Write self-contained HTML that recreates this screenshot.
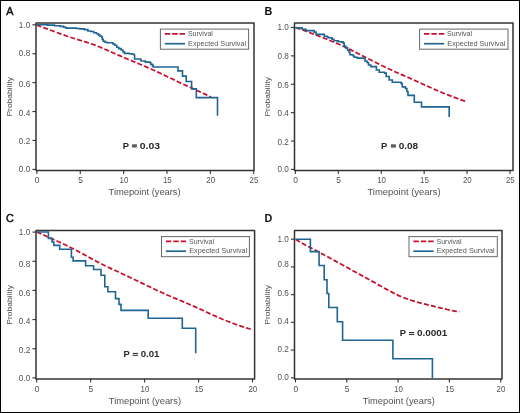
<!DOCTYPE html>
<html><head><meta charset="utf-8"><style>
html,body{margin:0;padding:0;background:#fff;}
body{width:520px;height:413px;overflow:hidden;font-family:"Liberation Sans",sans-serif;}
svg{display:block;will-change:transform;filter:blur(0.3px);}
</style></head><body>
<svg width="520" height="413" viewBox="0 0 520 413" font-family="Liberation Sans, sans-serif"><rect x="0.5" y="0.5" width="519" height="412" fill="#fff" stroke="#000" stroke-width="1"/>
<path d="M36.0,23.0 H254.0 V170.5 H36.0 Z" fill="none" stroke="#333333" stroke-width="1.5" stroke-linejoin="round"/>
<line x1="32.4" y1="169.40" x2="36.0" y2="169.40" stroke="#333333" stroke-width="1.1"/>
<text x="30.20" y="172.40" font-size="8.4" fill="#525252" text-anchor="end" textLength="11.4" lengthAdjust="spacingAndGlyphs">0.0</text>
<line x1="32.4" y1="140.48" x2="36.0" y2="140.48" stroke="#333333" stroke-width="1.1"/>
<text x="30.20" y="143.98" font-size="8.4" fill="#525252" text-anchor="end" textLength="11.4" lengthAdjust="spacingAndGlyphs">0.2</text>
<line x1="32.4" y1="111.56" x2="36.0" y2="111.56" stroke="#333333" stroke-width="1.1"/>
<text x="30.20" y="116.06" font-size="8.4" fill="#525252" text-anchor="end" textLength="11.4" lengthAdjust="spacingAndGlyphs">0.4</text>
<line x1="32.4" y1="82.64" x2="36.0" y2="82.64" stroke="#333333" stroke-width="1.1"/>
<text x="30.20" y="87.24" font-size="8.4" fill="#525252" text-anchor="end" textLength="11.4" lengthAdjust="spacingAndGlyphs">0.6</text>
<line x1="32.4" y1="53.72" x2="36.0" y2="53.72" stroke="#333333" stroke-width="1.1"/>
<text x="30.20" y="56.32" font-size="8.4" fill="#525252" text-anchor="end" textLength="11.4" lengthAdjust="spacingAndGlyphs">0.8</text>
<line x1="32.4" y1="24.80" x2="36.0" y2="24.80" stroke="#333333" stroke-width="1.1"/>
<text x="30.20" y="27.60" font-size="8.4" fill="#525252" text-anchor="end" textLength="11.4" lengthAdjust="spacingAndGlyphs">1.0</text>
<line x1="36.90" y1="170.5" x2="36.90" y2="173.9" stroke="#333333" stroke-width="1.1"/>
<text x="37.20" y="183.10" font-size="8.4" fill="#525252" text-anchor="middle" textLength="4.7" lengthAdjust="spacingAndGlyphs">0</text>
<line x1="80.26" y1="170.5" x2="80.26" y2="173.9" stroke="#333333" stroke-width="1.1"/>
<text x="80.56" y="183.10" font-size="8.4" fill="#525252" text-anchor="middle" textLength="4.7" lengthAdjust="spacingAndGlyphs">5</text>
<line x1="123.62" y1="170.5" x2="123.62" y2="173.9" stroke="#333333" stroke-width="1.1"/>
<text x="123.92" y="183.10" font-size="8.4" fill="#525252" text-anchor="middle" textLength="8.8" lengthAdjust="spacingAndGlyphs">10</text>
<line x1="166.98" y1="170.5" x2="166.98" y2="173.9" stroke="#333333" stroke-width="1.1"/>
<text x="167.28" y="183.10" font-size="8.4" fill="#525252" text-anchor="middle" textLength="8.8" lengthAdjust="spacingAndGlyphs">15</text>
<line x1="210.34" y1="170.5" x2="210.34" y2="173.9" stroke="#333333" stroke-width="1.1"/>
<text x="210.64" y="183.10" font-size="8.4" fill="#525252" text-anchor="middle" textLength="8.8" lengthAdjust="spacingAndGlyphs">20</text>
<line x1="253.70" y1="170.5" x2="253.70" y2="173.9" stroke="#333333" stroke-width="1.1"/>
<text x="254.00" y="183.10" font-size="8.4" fill="#525252" text-anchor="middle" textLength="8.8" lengthAdjust="spacingAndGlyphs">25</text>
<text x="108.60" y="195.40" font-size="9.6" fill="#525252" textLength="72.0" lengthAdjust="spacingAndGlyphs">Timepoint (years)</text>
<text x="11.70" y="116.60" font-size="7.8" fill="#525252" textLength="39.7" lengthAdjust="spacingAndGlyphs" transform="rotate(-90 11.70 116.60)">Probability</text>
<text x="6.2" y="14.8" font-size="10.8" fill="#111" stroke="#111" stroke-width="0.45">A</text>
<rect x="160.40" y="29.10" width="88.20" height="20.10" fill="#fff" stroke="#686868" stroke-width="1"/>
<line x1="164.8" y1="33.8" x2="185.0" y2="33.8" stroke="#c8102e" stroke-width="1.7" stroke-dasharray="5.4 2"/>
<line x1="164.8" y1="43.7" x2="185.0" y2="43.7" stroke="#1f6594" stroke-width="1.7"/>
<text x="187.90" y="36.10" font-size="7.6" fill="#555555" textLength="25.0" lengthAdjust="spacingAndGlyphs">Survival</text>
<text x="188.10" y="45.60" font-size="7.6" fill="#555555" textLength="58.0" lengthAdjust="spacingAndGlyphs">Expected Survival</text>
<polyline points="36.50,24.92 39.51,26.06 42.52,27.18 45.53,28.31 48.53,29.43 51.54,30.54 54.55,31.65 57.56,32.75 60.57,33.84 63.58,34.92 66.59,35.97 69.59,37.00 72.60,37.99 75.61,38.94 78.62,39.86 81.63,40.77 84.64,41.68 87.65,42.64 90.66,43.64 93.66,44.70 96.67,45.82 99.68,47.01 102.69,48.25 105.70,49.54 108.71,50.87 111.72,52.20 114.72,53.54 117.73,54.86 120.74,56.17 123.75,57.47 126.76,58.75 129.77,60.01 132.78,61.26 135.78,62.50 138.79,63.74 141.80,65.01 144.81,66.29 147.82,67.60 150.83,68.93 153.84,70.29 156.84,71.67 159.85,73.08 162.86,74.50 165.87,75.94 168.88,77.38 171.89,78.81 174.90,80.25 177.91,81.67 180.91,83.09 183.92,84.50 186.93,85.89 189.94,87.28 192.95,88.65 195.96,90.02 198.97,91.39 201.97,92.77 204.98,94.15 207.99,95.56 211.00,96.99" fill="none" stroke="#c8102e" stroke-width="1.75" stroke-dasharray="5 2.2"/>
<path d="M36.5,24.8 H47.5 V25.1 H54.5 V25.8 H60.2 V26.4 H63.7 V27.2 H66 V28.1 H76.4 V28.5 H79.8 V28.9 H84.4 V29.6 H87.9 V31 H90.8 V31.5 H93.7 V32.7 H96.5 V33.8 H98.5 V35.1 H99.9 V36.3 H101.8 V37 H102.3 V39.4 H103.3 V41.3 H105.2 V42.3 H107.1 V42.8 H112.9 V44 H114.8 V45.2 H116.7 V47.3 H118.7 V48.6 H121.1 V50 H123 V51.9 H124.4 V53.4 H129.2 V53.7 H132.1 V54.3 H134.3 V55.2 H134.6 V59 H140.6 V59.5 H141 V61 H145.2 V61.5 H145.6 V62.1 H149.8 V62.5 H150.8 V64.4 H152.5 V65.6 H153.1 V67 H178.0 V70.9 H182.5 V76.1 H186.2 V81.5 H191.6 V88.9 H196.3 V97.6 H217.5 V115.8" fill="none" stroke="#1f6594" stroke-width="1.6"/>
<g font-size="9.4" font-weight="bold" fill="#2a2a2a"><text x="122.70" y="148.60">P</text><rect x="132.0" y="144.3" width="4.9" height="3.2" fill="#5c5c5c"/><text x="139.80" y="148.60" textLength="20.40" lengthAdjust="spacingAndGlyphs">0.03</text></g>
<path d="M294.5,23.0 H513.0 V170.5 H294.5 Z" fill="none" stroke="#333333" stroke-width="1.5" stroke-linejoin="round"/>
<line x1="290.9" y1="169.40" x2="294.5" y2="169.40" stroke="#333333" stroke-width="1.1"/>
<text x="288.80" y="172.20" font-size="8.4" fill="#525252" text-anchor="end" textLength="11.4" lengthAdjust="spacingAndGlyphs">0.0</text>
<line x1="290.9" y1="141.02" x2="294.5" y2="141.02" stroke="#333333" stroke-width="1.1"/>
<text x="288.80" y="144.72" font-size="8.4" fill="#525252" text-anchor="end" textLength="11.4" lengthAdjust="spacingAndGlyphs">0.2</text>
<line x1="290.9" y1="112.64" x2="294.5" y2="112.64" stroke="#333333" stroke-width="1.1"/>
<text x="288.80" y="116.24" font-size="8.4" fill="#525252" text-anchor="end" textLength="11.4" lengthAdjust="spacingAndGlyphs">0.4</text>
<line x1="290.9" y1="84.26" x2="294.5" y2="84.26" stroke="#333333" stroke-width="1.1"/>
<text x="288.80" y="88.06" font-size="8.4" fill="#525252" text-anchor="end" textLength="11.4" lengthAdjust="spacingAndGlyphs">0.6</text>
<line x1="290.9" y1="55.88" x2="294.5" y2="55.88" stroke="#333333" stroke-width="1.1"/>
<text x="288.80" y="58.88" font-size="8.4" fill="#525252" text-anchor="end" textLength="11.4" lengthAdjust="spacingAndGlyphs">0.8</text>
<line x1="290.9" y1="27.50" x2="294.5" y2="27.50" stroke="#333333" stroke-width="1.1"/>
<text x="288.80" y="30.10" font-size="8.4" fill="#525252" text-anchor="end" textLength="11.4" lengthAdjust="spacingAndGlyphs">1.0</text>
<line x1="295.40" y1="170.5" x2="295.40" y2="173.9" stroke="#333333" stroke-width="1.1"/>
<text x="295.70" y="183.20" font-size="8.4" fill="#525252" text-anchor="middle" textLength="4.7" lengthAdjust="spacingAndGlyphs">0</text>
<line x1="338.32" y1="170.5" x2="338.32" y2="173.9" stroke="#333333" stroke-width="1.1"/>
<text x="338.62" y="183.20" font-size="8.4" fill="#525252" text-anchor="middle" textLength="4.7" lengthAdjust="spacingAndGlyphs">5</text>
<line x1="381.24" y1="170.5" x2="381.24" y2="173.9" stroke="#333333" stroke-width="1.1"/>
<text x="381.54" y="183.20" font-size="8.4" fill="#525252" text-anchor="middle" textLength="8.8" lengthAdjust="spacingAndGlyphs">10</text>
<line x1="424.16" y1="170.5" x2="424.16" y2="173.9" stroke="#333333" stroke-width="1.1"/>
<text x="424.46" y="183.20" font-size="8.4" fill="#525252" text-anchor="middle" textLength="8.8" lengthAdjust="spacingAndGlyphs">15</text>
<line x1="467.08" y1="170.5" x2="467.08" y2="173.9" stroke="#333333" stroke-width="1.1"/>
<text x="467.38" y="183.20" font-size="8.4" fill="#525252" text-anchor="middle" textLength="8.8" lengthAdjust="spacingAndGlyphs">20</text>
<line x1="510.00" y1="170.5" x2="510.00" y2="173.9" stroke="#333333" stroke-width="1.1"/>
<text x="510.30" y="183.20" font-size="8.4" fill="#525252" text-anchor="middle" textLength="8.8" lengthAdjust="spacingAndGlyphs">25</text>
<text x="367.40" y="195.40" font-size="9.6" fill="#525252" textLength="73.19999999999996" lengthAdjust="spacingAndGlyphs">Timepoint (years)</text>
<text x="270.20" y="116.60" font-size="7.8" fill="#525252" textLength="39.7" lengthAdjust="spacingAndGlyphs" transform="rotate(-90 270.20 116.60)">Probability</text>
<text x="264.60" y="14.80" font-size="10.8" fill="#111" font-weight="bold">B</text>
<rect x="419.60" y="29.10" width="88.40" height="20.10" fill="#fff" stroke="#686868" stroke-width="1"/>
<line x1="424.0" y1="33.8" x2="444.20000000000005" y2="33.8" stroke="#c8102e" stroke-width="1.7" stroke-dasharray="5.4 2"/>
<line x1="424.0" y1="43.7" x2="444.20000000000005" y2="43.7" stroke="#1f6594" stroke-width="1.7"/>
<text x="447.10" y="36.10" font-size="7.6" fill="#555555" textLength="25.0" lengthAdjust="spacingAndGlyphs">Survival</text>
<text x="447.30" y="45.60" font-size="7.6" fill="#555555" textLength="58.0" lengthAdjust="spacingAndGlyphs">Expected Survival</text>
<polyline points="295.60,27.60 298.61,28.63 301.62,29.68 304.63,30.75 307.64,31.84 310.65,32.95 313.66,34.08 316.67,35.22 319.68,36.38 322.69,37.55 325.71,38.74 328.72,39.95 331.73,41.19 334.74,42.46 337.75,43.76 340.76,45.10 343.77,46.48 346.78,47.90 349.79,49.37 352.80,50.86 355.81,52.38 358.82,53.91 361.83,55.45 364.84,56.99 367.85,58.52 370.86,60.05 373.87,61.57 376.88,63.08 379.89,64.57 382.91,66.05 385.92,67.50 388.93,68.92 391.94,70.32 394.95,71.68 397.96,73.01 400.97,74.34 403.98,75.66 406.99,76.99 410.00,78.32 413.01,79.66 416.02,81.02 419.03,82.38 422.04,83.74 425.05,85.11 428.06,86.47 431.07,87.82 434.08,89.15 437.09,90.45 440.11,91.73 443.12,92.97 446.13,94.19 449.14,95.38 452.15,96.53 455.16,97.66 458.17,98.76 461.18,99.84 464.19,100.91 467.20,101.97" fill="none" stroke="#c8102e" stroke-width="1.75" stroke-dasharray="5 2.2"/>
<path d="M295.4,27.9 H302.2 V29.2 H306 V30.6 H314.2 V32.1 H316.1 V34.4 H323.4 V34.4 H324.4 V36.3 H327.3 V37 H328.2 V37.8 H331.1 V37.9 H332.1 V39.2 H334 V40.7 H337 V40.9 H338.4 V41.8 H341.8 V42.1 H343.3 V43.1 H344.2 V46 H345.7 V47.9 H347.6 V50.3 H349.1 V52.3 H350 V54.7 H352 V55 H353.4 V56.2 H354.4 V57.3 H357.3 V58.1 H364.1 V58.5 H365 V61 H367 V62.5 H368.5 V65 H370.8 V66.6 H376.4 V70 H379.2 V72.3 H384.6 V73.1 H386.2 V76.5 H389.2 V80 H392.3 V82.2 H400.8 V82.6 H401.5 V83.8 H402.3 V86.9 H405.4 V88.5 H406.9 V91.5 H408 V95.4 H414.3 V102.3 H421.5 V106.9 H449.2 V116.9" fill="none" stroke="#1f6594" stroke-width="1.6"/>
<g font-size="9.4" font-weight="bold" fill="#2a2a2a"><text x="381.10" y="148.60">P</text><rect x="390.9" y="144.3" width="5.0" height="3.3" fill="#5c5c5c"/><text x="398.70" y="148.60" textLength="19.50" lengthAdjust="spacingAndGlyphs">0.08</text></g>
<path d="M36.0,230.5 H254.6 V379.0 H36.0 Z" fill="none" stroke="#333333" stroke-width="1.5" stroke-linejoin="round"/>
<line x1="32.4" y1="377.90" x2="36.0" y2="377.90" stroke="#333333" stroke-width="1.1"/>
<text x="30.20" y="380.90" font-size="8.4" fill="#525252" text-anchor="end" textLength="11.4" lengthAdjust="spacingAndGlyphs">0.0</text>
<line x1="32.4" y1="348.74" x2="36.0" y2="348.74" stroke="#333333" stroke-width="1.1"/>
<text x="30.20" y="352.74" font-size="8.4" fill="#525252" text-anchor="end" textLength="11.4" lengthAdjust="spacingAndGlyphs">0.2</text>
<line x1="32.4" y1="319.58" x2="36.0" y2="319.58" stroke="#333333" stroke-width="1.1"/>
<text x="30.20" y="324.48" font-size="8.4" fill="#525252" text-anchor="end" textLength="11.4" lengthAdjust="spacingAndGlyphs">0.4</text>
<line x1="32.4" y1="290.42" x2="36.0" y2="290.42" stroke="#333333" stroke-width="1.1"/>
<text x="30.20" y="296.02" font-size="8.4" fill="#525252" text-anchor="end" textLength="11.4" lengthAdjust="spacingAndGlyphs">0.6</text>
<line x1="32.4" y1="261.26" x2="36.0" y2="261.26" stroke="#333333" stroke-width="1.1"/>
<text x="30.20" y="267.36" font-size="8.4" fill="#525252" text-anchor="end" textLength="11.4" lengthAdjust="spacingAndGlyphs">0.8</text>
<line x1="32.4" y1="232.10" x2="36.0" y2="232.10" stroke="#333333" stroke-width="1.1"/>
<text x="30.20" y="235.10" font-size="8.4" fill="#525252" text-anchor="end" textLength="11.4" lengthAdjust="spacingAndGlyphs">1.0</text>
<line x1="36.70" y1="379.0" x2="36.70" y2="382.4" stroke="#333333" stroke-width="1.1"/>
<text x="37.00" y="391.70" font-size="8.4" fill="#525252" text-anchor="middle" textLength="4.7" lengthAdjust="spacingAndGlyphs">0</text>
<line x1="90.65" y1="379.0" x2="90.65" y2="382.4" stroke="#333333" stroke-width="1.1"/>
<text x="90.95" y="391.70" font-size="8.4" fill="#525252" text-anchor="middle" textLength="4.7" lengthAdjust="spacingAndGlyphs">5</text>
<line x1="144.60" y1="379.0" x2="144.60" y2="382.4" stroke="#333333" stroke-width="1.1"/>
<text x="144.90" y="391.70" font-size="8.4" fill="#525252" text-anchor="middle" textLength="8.8" lengthAdjust="spacingAndGlyphs">10</text>
<line x1="198.55" y1="379.0" x2="198.55" y2="382.4" stroke="#333333" stroke-width="1.1"/>
<text x="198.85" y="391.70" font-size="8.4" fill="#525252" text-anchor="middle" textLength="8.8" lengthAdjust="spacingAndGlyphs">15</text>
<line x1="252.50" y1="379.0" x2="252.50" y2="382.4" stroke="#333333" stroke-width="1.1"/>
<text x="252.80" y="391.70" font-size="8.4" fill="#525252" text-anchor="middle" textLength="8.8" lengthAdjust="spacingAndGlyphs">20</text>
<text x="108.80" y="404.30" font-size="9.6" fill="#525252" textLength="72.2" lengthAdjust="spacingAndGlyphs">Timepoint (years)</text>
<text x="11.70" y="324.70" font-size="7.8" fill="#525252" textLength="39.80000000000001" lengthAdjust="spacingAndGlyphs" transform="rotate(-90 11.70 324.70)">Probability</text>
<text x="5.9" y="222.3" font-size="10.8" fill="#111" stroke="#111" stroke-width="0.45">C</text>
<rect x="161.50" y="236.60" width="87.90" height="20.10" fill="#fff" stroke="#686868" stroke-width="1"/>
<line x1="165.9" y1="241.3" x2="186.1" y2="241.3" stroke="#c8102e" stroke-width="1.7" stroke-dasharray="5.4 2"/>
<line x1="165.9" y1="251.2" x2="186.1" y2="251.2" stroke="#1f6594" stroke-width="1.7"/>
<text x="189.00" y="243.60" font-size="7.6" fill="#555555" textLength="25.0" lengthAdjust="spacingAndGlyphs">Survival</text>
<text x="189.20" y="253.10" font-size="7.6" fill="#555555" textLength="58.0" lengthAdjust="spacingAndGlyphs">Expected Survival</text>
<polyline points="36.70,232.01 39.74,233.32 42.77,234.66 45.81,236.01 48.85,237.37 51.88,238.73 54.92,240.10 57.96,241.47 60.99,242.87 64.03,244.29 67.07,245.75 70.10,247.24 73.14,248.77 76.18,250.34 79.21,251.95 82.25,253.60 85.29,255.28 88.32,256.97 91.36,258.64 94.40,260.27 97.43,261.87 100.47,263.42 103.51,264.93 106.54,266.40 109.58,267.84 112.62,269.26 115.65,270.67 118.69,272.08 121.73,273.50 124.76,274.92 127.80,276.35 130.84,277.80 133.87,279.25 136.91,280.71 139.95,282.18 142.98,283.64 146.02,285.10 149.05,286.56 152.09,288.00 155.13,289.43 158.16,290.86 161.20,292.26 164.24,293.64 167.27,294.99 170.31,296.31 173.35,297.60 176.38,298.87 179.42,300.13 182.46,301.40 185.49,302.69 188.53,303.99 191.57,305.32 194.60,306.67 197.64,308.03 200.68,309.42 203.71,310.82 206.75,312.22 209.79,313.62 212.82,315.00 215.86,316.36 218.90,317.69 221.93,318.98 224.97,320.23 228.01,321.44 231.04,322.61 234.08,323.73 237.12,324.81 240.15,325.84 243.19,326.85 246.23,327.82 249.26,328.76 252.30,329.69" fill="none" stroke="#c8102e" stroke-width="1.75" stroke-dasharray="5 2.2"/>
<path d="M36.7,232 H48.4 V238.4 H52 V242 H53.9 V245.4 H59.7 V249.3 H71.4 V257.2 H73.1 V260.9 H85.6 V265.8 H93.6 V269.5 H101 V275.2 H104.8 V286.7 H107.9 V291.7 H115.5 V298.6 H119 V304.4 H121 V310.4 H148.2 V318.2 H182.3 V328.3 H195.7 V353.3" fill="none" stroke="#1f6594" stroke-width="1.6"/>
<g font-size="9.4" font-weight="bold" fill="#2a2a2a"><text x="123.50" y="356.80">P</text><rect x="132.7" y="352.9" width="5.2" height="1.05" fill="#2a2a2a"/><rect x="132.7" y="354.8" width="5.2" height="1.05" fill="#2a2a2a"/><text x="140.70" y="356.80" textLength="18.80" lengthAdjust="spacingAndGlyphs">0.01</text></g>
<path d="M294.5,230.4 H502.0 V379.0 H294.5 Z" fill="none" stroke="#333333" stroke-width="1.5" stroke-linejoin="round"/>
<line x1="290.9" y1="377.80" x2="294.5" y2="377.80" stroke="#333333" stroke-width="1.1"/>
<text x="288.80" y="380.10" font-size="8.4" fill="#525252" text-anchor="end" textLength="11.4" lengthAdjust="spacingAndGlyphs">0.0</text>
<line x1="290.9" y1="350.08" x2="294.5" y2="350.08" stroke="#333333" stroke-width="1.1"/>
<text x="288.80" y="352.28" font-size="8.4" fill="#525252" text-anchor="end" textLength="11.4" lengthAdjust="spacingAndGlyphs">0.2</text>
<line x1="290.9" y1="322.36" x2="294.5" y2="322.36" stroke="#333333" stroke-width="1.1"/>
<text x="288.80" y="323.86" font-size="8.4" fill="#525252" text-anchor="end" textLength="11.4" lengthAdjust="spacingAndGlyphs">0.4</text>
<line x1="290.9" y1="294.64" x2="294.5" y2="294.64" stroke="#333333" stroke-width="1.1"/>
<text x="288.80" y="295.74" font-size="8.4" fill="#525252" text-anchor="end" textLength="11.4" lengthAdjust="spacingAndGlyphs">0.6</text>
<line x1="290.9" y1="266.92" x2="294.5" y2="266.92" stroke="#333333" stroke-width="1.1"/>
<text x="288.80" y="267.32" font-size="8.4" fill="#525252" text-anchor="end" textLength="11.4" lengthAdjust="spacingAndGlyphs">0.8</text>
<line x1="290.9" y1="239.20" x2="294.5" y2="239.20" stroke="#333333" stroke-width="1.1"/>
<text x="288.80" y="242.40" font-size="8.4" fill="#525252" text-anchor="end" textLength="11.4" lengthAdjust="spacingAndGlyphs">1.0</text>
<line x1="295.50" y1="379.0" x2="295.50" y2="382.4" stroke="#333333" stroke-width="1.1"/>
<text x="295.80" y="391.70" font-size="8.4" fill="#525252" text-anchor="middle" textLength="4.7" lengthAdjust="spacingAndGlyphs">0</text>
<line x1="346.80" y1="379.0" x2="346.80" y2="382.4" stroke="#333333" stroke-width="1.1"/>
<text x="347.10" y="391.70" font-size="8.4" fill="#525252" text-anchor="middle" textLength="4.7" lengthAdjust="spacingAndGlyphs">5</text>
<line x1="398.10" y1="379.0" x2="398.10" y2="382.4" stroke="#333333" stroke-width="1.1"/>
<text x="398.40" y="391.70" font-size="8.4" fill="#525252" text-anchor="middle" textLength="8.8" lengthAdjust="spacingAndGlyphs">10</text>
<line x1="449.40" y1="379.0" x2="449.40" y2="382.4" stroke="#333333" stroke-width="1.1"/>
<text x="449.70" y="391.70" font-size="8.4" fill="#525252" text-anchor="middle" textLength="8.8" lengthAdjust="spacingAndGlyphs">15</text>
<line x1="500.70" y1="379.0" x2="500.70" y2="382.4" stroke="#333333" stroke-width="1.1"/>
<text x="501.00" y="391.70" font-size="8.4" fill="#525252" text-anchor="middle" textLength="8.8" lengthAdjust="spacingAndGlyphs">20</text>
<text x="362.70" y="404.30" font-size="9.6" fill="#525252" textLength="72.1" lengthAdjust="spacingAndGlyphs">Timepoint (years)</text>
<text x="270.30" y="324.70" font-size="7.8" fill="#525252" textLength="39.80000000000001" lengthAdjust="spacingAndGlyphs" transform="rotate(-90 270.30 324.70)">Probability</text>
<text x="264.40" y="222.30" font-size="10.8" fill="#111" font-weight="bold">D</text>
<rect x="409.00" y="236.60" width="88.30" height="20.10" fill="#fff" stroke="#686868" stroke-width="1"/>
<line x1="413.4" y1="241.3" x2="433.6" y2="241.3" stroke="#c8102e" stroke-width="1.7" stroke-dasharray="5.4 2"/>
<line x1="413.4" y1="251.2" x2="433.6" y2="251.2" stroke="#1f6594" stroke-width="1.7"/>
<text x="436.50" y="243.60" font-size="7.6" fill="#555555" textLength="25.0" lengthAdjust="spacingAndGlyphs">Survival</text>
<text x="436.70" y="253.10" font-size="7.6" fill="#555555" textLength="58.0" lengthAdjust="spacingAndGlyphs">Expected Survival</text>
<polyline points="295.70,239.24 298.73,241.19 301.76,243.03 304.79,244.74 307.83,246.33 310.86,247.88 313.89,249.46 316.92,251.08 319.95,252.70 322.98,254.33 326.01,255.96 329.05,257.59 332.08,259.24 335.11,260.89 338.14,262.56 341.17,264.24 344.20,265.92 347.24,267.60 350.27,269.27 353.30,270.94 356.33,272.60 359.36,274.25 362.39,275.89 365.42,277.53 368.46,279.19 371.49,280.88 374.52,282.58 377.55,284.29 380.58,286.01 383.61,287.71 386.64,289.38 389.68,291.02 392.71,292.61 395.74,294.15 398.77,295.59 401.80,296.91 404.83,298.12 407.86,299.22 410.90,300.21 413.93,301.13 416.96,302.00 419.99,302.83 423.02,303.62 426.05,304.38 429.09,305.11 432.12,305.85 435.15,306.60 438.18,307.37 441.21,308.11 444.24,308.83 447.27,309.51 450.31,310.17 453.34,310.79 456.37,311.37 459.40,311.90" fill="none" stroke="#c8102e" stroke-width="1.75" stroke-dasharray="5 2.2"/>
<path d="M295.5,239.2 H310.4 V251.6 H319.1 V265.5 H324.2 V279.7 H327 V293.5 H328.8 V307.5 H337.3 V321.8 H342.6 V340.3 H392.9 V358.8 H432.4 V378" fill="none" stroke="#1f6594" stroke-width="1.6"/>
<g font-size="9.4" font-weight="bold" fill="#2a2a2a"><text x="399.80" y="336.30">P</text><rect x="409.0" y="332.0" width="5.3" height="1.05" fill="#2a2a2a"/><rect x="409.0" y="333.9" width="5.3" height="1.05" fill="#2a2a2a"/><text x="417.00" y="336.30" textLength="30.40" lengthAdjust="spacingAndGlyphs">0.0001</text></g></svg>
</body></html>
